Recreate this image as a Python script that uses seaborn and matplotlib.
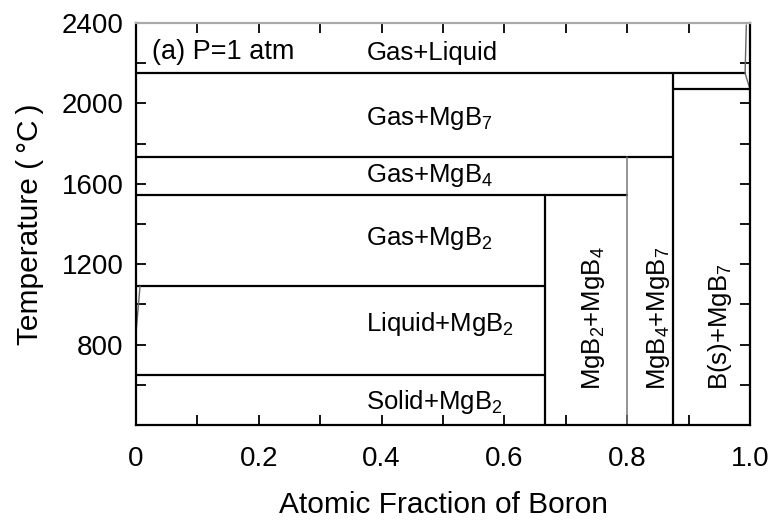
import numpy as np
import pandas as pd
import matplotlib
matplotlib.use("Agg")
import matplotlib.pyplot as plt
import seaborn as sns

# Boride compositions (atomic fraction of boron)
x_mgb2 = 2 / 3
x_mgb4 = 0.8
x_mgb7 = 0.875

# Invariant temperatures (°C)
t_mg_melt = 650
t_mg_boil = 1090
t_mgb2_dec = 1545
t_mgb4_dec = 1735
t_mgb7_dec = 2150
t_b_mgb7 = 2070
t_min, t_max = 400, 2400

# Boundary close to pure Mg (gas / liquid) and close to pure B (liquidus)
mg_edge_x = [0.0065, 0.0]
mg_edge_t = [1090, 860]
b_edge_x = [0.994, 0.992, 1.0]
b_edge_t = [2390, 2150, 2070]

# Phase-field labels
field_labels = ["Gas+Liquid", "Gas+MgB$_7$", "Gas+MgB$_4$",
                "Gas+MgB$_2$", "Liquid+MgB$_2$", "Solid+MgB$_2$"]
field_label_t = [2218, 1890, 1608, 1295, 866, 480]
field_label_x = 0.375

vert_labels = ["MgB$_2$+MgB$_4$", "MgB$_4$+MgB$_7$", "B(s)+MgB$_7$"]
vert_label_x = [0.756, 0.862, 0.962]
vert_label_t = 575

x_tick_labels = ["0", "0.2", "0.4", "0.6", "0.8", "1.0"]
y_tick_values = [800, 1200, 1600, 2000, 2400]

# Segments: (x0, t0, x1, t1)
black_segments = [
    (0.0, t_mgb7_dec, 0.992, t_mgb7_dec),
    (0.0, t_mgb4_dec, x_mgb7, t_mgb4_dec),
    (0.0, t_mgb2_dec, x_mgb4, t_mgb2_dec),
    (0.0, t_mg_boil, x_mgb2, t_mg_boil),
    (0.0, t_mg_melt, x_mgb2, t_mg_melt),
    (x_mgb7, t_b_mgb7, 1.0, t_b_mgb7),
    (x_mgb2, t_min, x_mgb2, t_mgb2_dec),
    (x_mgb7, t_min, x_mgb7, t_mgb7_dec),
]
gray_segments = [
    (x_mgb4, t_min, x_mgb4, t_mgb4_dec),
]


def segments_frame(segs):
    rows = []
    for i, (x0, t0, x1, t1) in enumerate(segs):
        rows.append({"seg": i, "order": 0, "x": x0, "T": t0})
        rows.append({"seg": i, "order": 1, "x": x1, "T": t1})
    return pd.DataFrame(rows)


sns.set_theme(style="ticks")
plt.rcParams["font.family"] = ["Liberation Sans", "DejaVu Sans"]
plt.rcParams["mathtext.fontset"] = "custom"
plt.rcParams["mathtext.rm"] = "Liberation Sans"
plt.rcParams["mathtext.it"] = "Liberation Sans:italic"
plt.rcParams["mathtext.bf"] = "Liberation Sans:bold"
plt.rcParams["text.color"] = "black"
plt.rcParams["axes.labelcolor"] = "black"
plt.rcParams["xtick.color"] = "black"
plt.rcParams["ytick.color"] = "black"

fig = plt.figure(figsize=(7.76, 5.21), dpi=100)
ax = fig.add_axes([0.1753, 0.1843, 0.7912, 0.7716])

sns.lineplot(data=segments_frame(black_segments), x="x", y="T", units="seg",
             estimator=None, sort=False, color="black", linewidth=1.6,
             legend=False, ax=ax)
sns.lineplot(data=segments_frame(gray_segments), x="x", y="T", units="seg",
             estimator=None, sort=False, color="#777777", linewidth=1.1,
             legend=False, ax=ax)

edges = pd.DataFrame({
    "x": mg_edge_x + b_edge_x,
    "T": mg_edge_t + b_edge_t,
    "seg": [0] * len(mg_edge_x) + [1] * len(b_edge_x),
})
sns.lineplot(data=edges, x="x", y="T", units="seg", estimator=None,
             sort=False, color="#666666", linewidth=1.0, legend=False, ax=ax)

ax.set_xlim(0, 1)
ax.set_ylim(t_min, t_max)

ax.set_xticks(np.linspace(0, 1, 6))
ax.set_xticklabels(x_tick_labels)
ax.set_xticks(np.arange(0.1, 1.0, 0.2), minor=True)
ax.set_yticks(y_tick_values)
ax.set_yticks(np.arange(600, 2400, 400), minor=True)

ax.tick_params(which="both", direction="in", top=True, right=True,
               length=7, width=1.3, colors="black", labelsize=20)
ax.tick_params(axis="x", which="both", pad=15)
ax.tick_params(axis="y", which="both", pad=9)
for tick in ax.xaxis.get_major_ticks() + ax.xaxis.get_minor_ticks():
    tick.tick2line.set_color("#999999")

for side in ["left", "right", "bottom"]:
    ax.spines[side].set_color("black")
    ax.spines[side].set_linewidth(1.6)
ax.spines["top"].set_color("#aaaaaa")
ax.spines["top"].set_linewidth(1.6)

ax.set_xlabel("Atomic Fraction of Boron", fontsize=21.5, labelpad=14,
              color="black")
ax.set_ylabel("Temperature (\u2009°C\u2009)", fontsize=21.5, labelpad=13,
              color="black")

ax.text(0.0255, 2223, "(a) P=1 atm", fontsize=19.5, ha="left",
        va="baseline", color="black")
for lab, t in zip(field_labels, field_label_t):
    ax.text(field_label_x, t, lab, fontsize=18.5, ha="left", va="baseline",
            color="black")
for lab, x in zip(vert_labels, vert_label_x):
    ax.text(x, vert_label_t, lab, fontsize=18.5, rotation=90,
            rotation_mode="anchor", ha="left", va="baseline", color="black")

fig.savefig("out.png", dpi=100)
